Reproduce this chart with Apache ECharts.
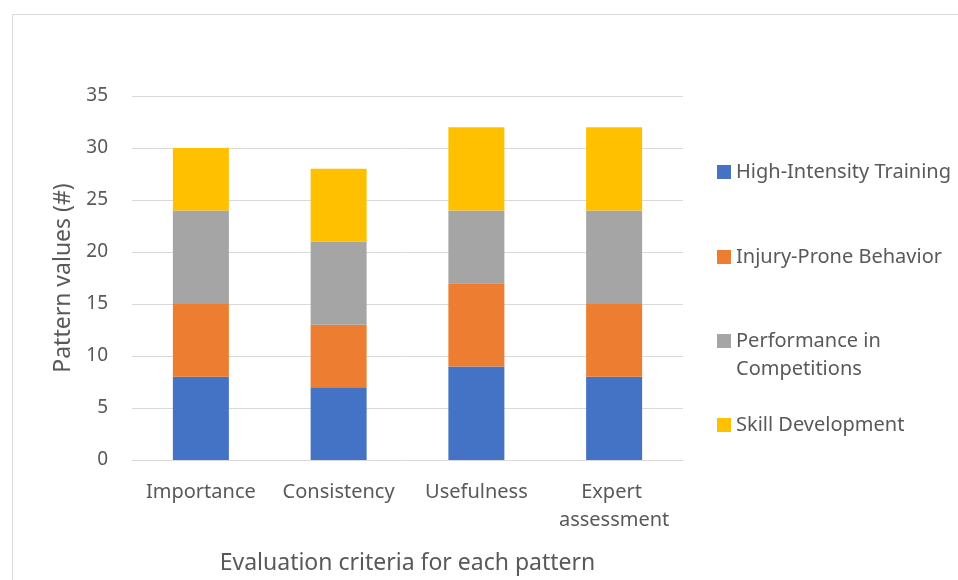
<!DOCTYPE html>
<html>
<head>
<meta charset="utf-8">
<script src="https://cdn.jsdelivr.net/npm/echarts@6/dist/echarts.min.js"></script>
<style>
  html, body { margin: 0; padding: 0; background: #fff; }
  #chart { width: 958px; height: 580px; }
</style>
</head>
<body>
<div id="chart"></div>
<script>
// 数据
let categories = ['Importance', 'Consistency', 'Usefulness', 'Expert assessment']
let seriesNames = ['High-Intensity Training', 'Injury-Prone Behavior', 'Performance in Competitions', 'Skill Development']
let highIntensity = [8, 7, 9, 8]
let injuryProne = [7, 6, 8, 7]
let performance = [9, 8, 7, 9]
let skillDev = [6, 7, 8, 8]
let colors = ['#4472C4', '#ED7D31', '#A5A5A5', '#FFC000']

let font = 'Noto Sans'
let textColor = '#595959'

let chart = echarts.init(document.getElementById('chart'))

let makeSeries = (name, data, color) => ({
    name: name,
    type: 'bar',
    stack: 'total',
    barWidth: 56,
    itemStyle: { color: color },
    data: data
})

// 图例位置（每项单独摆，第三项第二行单独写）
let legendTops = [158, 243, 327, 411]
let legends = seriesNames.map((name, i) => ({
    data: [name],
    left: 717,
    top: legendTops[i],
    padding: 0,
    itemWidth: 14,
    itemHeight: 14,
    icon: 'rect',
    selectedMode: false,
    formatter: n => n === 'Performance in Competitions' ? 'Performance in' : n,
    textStyle: {
        fontFamily: font,
        fontSize: 20,
        color: textColor,
        lineHeight: 28
    }
}))

let option = {
    animation: false,
    backgroundColor: '#fff',
    color: colors,
    graphic: [{
        type: 'rect',
        shape: { x: 12.5, y: 14.5, width: 960, height: 600 },
        style: { fill: 'none', stroke: '#d9d9d9', lineWidth: 1 }
    }, {
        type: 'text',
        left: 736,
        top: 359,
        style: { text: 'Competitions', font: '20px "Noto Sans"', fill: textColor }
    }],
    grid: { left: 132, right: 275, top: 96, bottom: 120 },
    legend: legends,
    xAxis: {
        type: 'category',
        data: categories,
        name: 'Evaluation criteria for each pattern',
        nameLocation: 'middle',
        nameGap: 92,
        nameTextStyle: { fontFamily: font, fontSize: 23, color: textColor },
        axisLine: { lineStyle: { color: '#d9d9d9', width: 1 } },
        axisTick: { show: false },
        axisLabel: {
            interval: 0,
            fontFamily: font,
            fontSize: 20,
            color: textColor,
            margin: 18,
            lineHeight: 28,
            width: 130,
            overflow: 'break'
        }
    },
    yAxis: {
        type: 'value',
        min: 0,
        max: 35,
        interval: 5,
        name: 'Pattern values (#)',
        nameLocation: 'middle',
        nameGap: 52,
        nameTextStyle: { fontFamily: font, fontSize: 23, color: textColor },
        axisLine: { show: false },
        axisTick: { show: false },
        splitLine: { lineStyle: { color: '#d9d9d9', width: 1 } },
        axisLabel: { fontFamily: font, fontSize: 19, color: textColor, margin: 24 }
    },
    series: [
        makeSeries(seriesNames[0], highIntensity, colors[0]),
        makeSeries(seriesNames[1], injuryProne, colors[1]),
        makeSeries(seriesNames[2], performance, colors[2]),
        makeSeries(seriesNames[3], skillDev, colors[3])
    ]
}

chart.setOption(option)
</script>
</body>
</html>
